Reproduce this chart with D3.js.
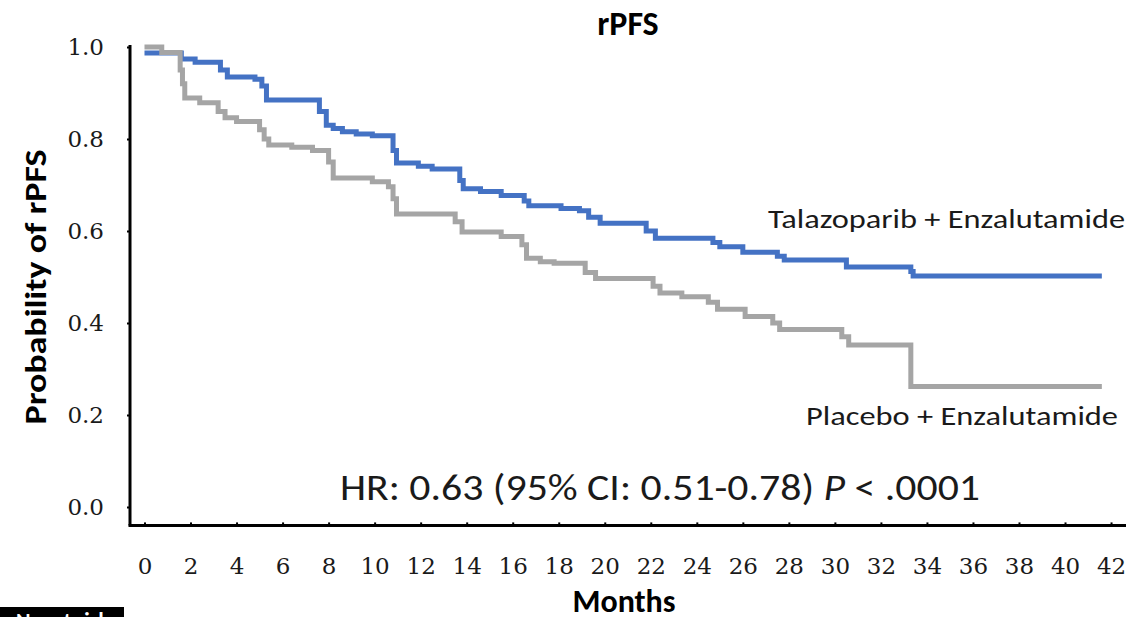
<!DOCTYPE html>
<html>
<head>
<meta charset="utf-8">
<script src="https://cdn.jsdelivr.net/npm/d3@7"></script>
<style>
  body { margin: 0; background: #fff; }
  svg { display: block; }
</style>
</head>
<body>
<div id="chart"></div>
<script>
// Kaplan-Meier step data (months, probability)
const talaTimes = [0, 1.6, 2.2, 3.3, 3.6, 4.8, 5.1, 5.3, 7.6, 7.9, 8.2, 8.6, 9.2, 9.9,
  10.8, 10.95, 11.9, 12.5, 13.7, 13.85, 14.6, 15.5, 16.5, 16.7, 18.1, 18.9, 19.3, 19.8,
  21.8, 22.2, 24.7, 25.0, 26.0, 27.5, 27.8, 30.5, 33.3, 33.4, 41.6];
const talaSurv = [0.987, 0.974, 0.967, 0.95, 0.935, 0.93, 0.915, 0.885, 0.86, 0.83, 0.823, 0.816, 0.811, 0.807,
  0.775, 0.748, 0.741, 0.735, 0.71, 0.692, 0.686, 0.677, 0.665, 0.655, 0.649, 0.644, 0.63, 0.617,
  0.6, 0.584, 0.575, 0.566, 0.554, 0.545, 0.537, 0.522, 0.512, 0.502, 0.502];

const placTimes = [0, 0.75, 1.55, 1.65, 1.75, 2.4, 3.2, 3.5, 4.0, 5.0, 5.2, 5.4, 6.4, 7.3,
  8.0, 8.2, 9.9, 10.6, 10.8, 10.95, 13.5, 13.8, 15.5, 16.4, 16.6, 17.2, 17.8, 19.15, 19.6,
  22.1, 22.4, 23.35, 24.5, 24.9, 26.1, 27.3, 27.6, 30.3, 30.6, 33.3, 41.6];
const placSurv = [1.0, 0.988, 0.95, 0.92, 0.889, 0.879, 0.86, 0.846, 0.838, 0.82, 0.8, 0.787, 0.782, 0.775,
  0.75, 0.715, 0.707, 0.696, 0.67, 0.637, 0.62, 0.598, 0.588, 0.57, 0.541, 0.533, 0.53, 0.51, 0.497,
  0.48, 0.465, 0.457, 0.445, 0.43, 0.414, 0.4, 0.386, 0.37, 0.352, 0.262, 0.262];

const xTicks = d3.range(0, 43, 2);
const yTicks = [0, 0.2, 0.4, 0.6, 0.8, 1.0];

const width = 1135, height = 617;

const svg = d3.select("#chart")
  .append("svg")
  .attr("width", width)
  .attr("height", height);

// scales: x-axis sits a bit left of 0 months, y-axis a bit below 0.0
const x = d3.scaleLinear().domain([-0.63, 42.65]).range([130, 1126]);
const y = d3.scaleLinear().domain([-0.04, 1.0]).range([525.4, 47]);

const serif = "'DejaVu Serif', 'Liberation Serif', serif";
const sans = "Carlito, Calibri, 'Open Sans', 'Liberation Sans', sans-serif";

// y axis
const yAxis = svg.append("g")
  .attr("transform", `translate(${x.range()[0]},0)`)
  .call(d3.axisLeft(y).tickValues(yTicks).tickFormat(d3.format(".1f")).tickSize(3).tickSizeOuter(0));
yAxis.select(".domain").attr("stroke", "#000").attr("stroke-width", 3)
  .attr("d", `M0,${y(1.0) - 2}V${y.range()[0]}`);
yAxis.selectAll(".tick line").attr("stroke", "#000").attr("stroke-width", 2);
yAxis.selectAll(".tick text")
  .attr("x", -26)
  .attr("font-family", serif)
  .attr("font-size", 23)
  .attr("fill", "#1a1a1a");

// x axis
const xAxis = svg.append("g")
  .attr("transform", `translate(0,${y.range()[0]})`)
  .call(d3.axisBottom(x).tickValues(xTicks).tickSize(-3).tickSizeOuter(0));
xAxis.select(".domain").attr("stroke", "#000").attr("stroke-width", 3)
  .attr("d", `M${x.range()[0] - 1.5},0H${x.range()[1]}`);
xAxis.selectAll(".tick line").attr("stroke", "#000").attr("stroke-width", 2);
xAxis.selectAll(".tick text")
  .attr("y", 41)
  .attr("dy", "0.35em")
  .attr("font-family", serif)
  .attr("font-size", 23)
  .attr("fill", "#1a1a1a");

// curves
const line = d3.line()
  .x(d => x(d[0]))
  .y(d => y(d[1]))
  .curve(d3.curveStepAfter);

const talaData = talaTimes.map((t, i) => [t, talaSurv[i]]);
const placData = placTimes.map((t, i) => [t, placSurv[i]]);

svg.append("path")
  .datum(talaData)
  .attr("fill", "none")
  .attr("stroke", "#4472C4")
  .attr("stroke-width", 5)
  .attr("d", line);

svg.append("path")
  .datum(placData)
  .attr("fill", "none")
  .attr("stroke", "#A5A5A5")
  .attr("stroke-width", 5)
  .attr("d", line);

// title and axis titles
svg.append("text")
  .attr("x", 628).attr("y", 35)
  .attr("text-anchor", "middle")
  .style("font-family", sans)
  .style("font-weight", "bold")
  .style("font-size", "34px")
  .text("rPFS");

svg.append("text")
  .attr("x", 624).attr("y", 612)
  .attr("text-anchor", "middle")
  .style("font-family", sans)
  .style("font-weight", "bold")
  .style("font-size", "32px")
  .text("Months");

svg.append("text")
  .attr("transform", "translate(46,287) rotate(-90)")
  .attr("text-anchor", "middle")
  .attr("textLength", 275)
  .attr("lengthAdjust", "spacingAndGlyphs")
  .style("font-family", sans)
  .style("font-weight", "bold")
  .style("font-size", "31px")
  .text("Probability of rPFS");

// curve labels
svg.append("text")
  .attr("x", 768).attr("y", 228)
  .attr("textLength", 357)
  .attr("lengthAdjust", "spacingAndGlyphs")
  .style("font-family", sans)
  .style("font-size", "27px")
  .style("fill", "#1a1a1a")
  .text("Talazoparib + Enzalutamide");

svg.append("text")
  .attr("x", 806).attr("y", 425)
  .attr("textLength", 312)
  .attr("lengthAdjust", "spacingAndGlyphs")
  .style("font-family", sans)
  .style("font-size", "27px")
  .style("fill", "#1a1a1a")
  .text("Placebo + Enzalutamide");

// hazard ratio note
const hr = svg.append("text")
  .attr("x", 340).attr("y", 500)
  .attr("textLength", 640)
  .attr("lengthAdjust", "spacingAndGlyphs")
  .style("font-family", sans)
  .style("font-size", "36px")
  .style("fill", "#1a1a1a");
hr.append("tspan").text("HR: 0.63 (95% CI: 0.51-0.78) ");
hr.append("tspan").style("font-style", "italic").text("P");
hr.append("tspan").text(" < .0001");

// cropped "No. at risk" tab at the bottom left
svg.append("rect")
  .attr("x", 0).attr("y", 607)
  .attr("width", 124).attr("height", 10)
  .attr("fill", "#000");
svg.append("text")
  .attr("x", 16).attr("y", 628)
  .style("font-family", sans)
  .style("font-weight", "bold")
  .style("font-size", "22px")
  .style("fill", "#fff")
  .text("No. at risk");
</script>
</body>
</html>
